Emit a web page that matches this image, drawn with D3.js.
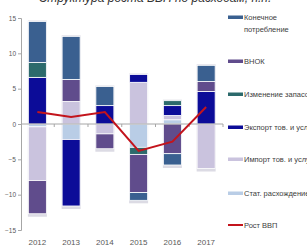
<!DOCTYPE html>
<html>
<head>
	<script src="https://cdn.jsdelivr.net/npm/d3@7"></script>
	<style>
		html, body {
			padding: 0;
			margin: 0;
			background: #fff;
		}
	</style>
</head>
<body>
	<script>
		var width = 307, height = 248;

		/* data */
		var years       = ["2012", "2013", "2014", "2015", "2016", "2017"];
		var consumption = [5.8, 6.1, 2.7, -1.1, -1.6, 2.3];
		var vnok        = [-4.7, 3.1, -2.1, -5.4, -4.2, 1.4];
		var stocks      = [2.1, 0, 0, -1.0, 0.7, 0];
		var exports     = [6.6, -9.4, 2.6, 1.1, 1.4, 4.6];
		var imports     = [-7.6, 3.2, -1.4, 5.9, 0.6, -6.3];
		var statDisc    = [-0.4, -2.2, 0, -3.3, 0.6, 0];
		var gdp         = [1.7, 1.0, 1.7, -3.8, -2.5, 2.4];
		var yTicks      = [-15, -10, -5, 0, 5, 10, 15];

		/* stacking order (bottom up) */
		var series = [
			{key: "stat",  name: "Стат. расхождение",   values: statDisc,    color: "#b9cde6"},
			{key: "imp",   name: "Импорт тов. и услуг", values: imports,     color: "#cac3de"},
			{key: "exp",   name: "Экспорт тов. и услуг", values: exports,    color: "#0c0c98"},
			{key: "stk",   name: "Изменение запасов",   values: stocks,      color: "#2c6a6c"},
			{key: "vnok",  name: "ВНОК",                values: vnok,        color: "#604c8c"},
			{key: "cons",  name: "Конечное потребление", values: consumption, color: "#3a6090"}
		];

		var rows = years.map(function(y, i) {
			var r = {year: y};
			series.forEach(function(s) { r[s.key] = s.values[i]; });
			return r;
		});

		var stack = d3.stack()
			.keys(series.map(function(s) { return s.key; }))
			.offset(d3.stackOffsetDiverging);
		var layers = stack(rows);

		var svg = d3.select("body").append("svg")
			.attr("width", width)
			.attr("height", height);

		var x = d3.scaleBand()
			.domain(years)
			.range([20.5, 223])
			.paddingInner(0.467)
			.paddingOuter(0.233);

		var y = d3.scaleLinear()
			.domain([-15, 15])
			.range([230, 18]);

		// title, mostly cut off by the top edge
		svg.append("text")
			.attr("x", 155)
			.attr("y", 1.5)
			.attr("text-anchor", "middle")
			.style("font-family", "Liberation Sans, Arial, sans-serif")
			.style("font-style", "italic")
			.style("font-size", "12px")
			.style("fill", "#333")
			.text("Структура роста ВВП по расходам, п.п.");

		// soft shadow under each column
		svg.append("g").selectAll("rect")
			.data(years)
			.join("rect")
			.attr("x", function(d) { return x(d) - 0.5; })
			.attr("width", x.bandwidth() + 1)
			.attr("y", function(d, i) { return y(d3.max(layers, function(l) { return l[i][1]; })) - 1; })
			.attr("height", function(d, i) {
				var top = d3.max(layers, function(l) { return l[i][1]; });
				var bot = d3.min(layers, function(l) { return l[i][0]; });
				return y(bot) - y(top) + 4;
			})
			.attr("fill", "#dcdbe4");

		// stacked segments
		svg.append("g").selectAll("g")
			.data(layers)
			.join("g")
			.attr("fill", function(d, i) { return series[i].color; })
			.selectAll("rect")
			.data(function(d) { return d; })
			.join("rect")
			.attr("x", function(d) { return x(d.data.year); })
			.attr("width", x.bandwidth())
			.attr("y", function(d) { return y(Math.max(d[0], d[1])); })
			.attr("height", function(d) { return Math.abs(y(d[0]) - y(d[1])); })
			.attr("stroke", "#fff")
			.attr("stroke-width", 0.8);

		// y axis
		var yAxis = svg.append("g")
			.attr("transform", "translate(21,0)")
			.call(d3.axisLeft(y).tickValues(yTicks).tickSize(3).tickPadding(2));
		yAxis.select(".domain").attr("stroke", "#a6a6a6");
		yAxis.selectAll(".tick line").attr("stroke", "#a6a6a6");
		yAxis.selectAll("text")
			.style("font-family", "Liberation Sans Narrow, Liberation Sans, Arial, sans-serif")
			.style("font-size", "6.5px")
			.style("fill", "#595959");

		// x axis at zero, ticks between categories
		var bounds = years.map(function(d) { return x(d) - x.step() * x.paddingInner() / 2; });
		bounds.push(223);
		var xAxis = svg.append("g");
		xAxis.append("line")
			.attr("x1", 21).attr("x2", 223)
			.attr("y1", y(0)).attr("y2", y(0))
			.attr("stroke", "#a6a6a6");
		xAxis.selectAll("line.t")
			.data(bounds.slice(1))
			.join("line")
			.attr("class", "t")
			.attr("x1", function(d) { return d; })
			.attr("x2", function(d) { return d; })
			.attr("y1", y(0)).attr("y2", y(0) + 3)
			.attr("stroke", "#a6a6a6");

		svg.append("g").selectAll("text")
			.data(years)
			.join("text")
			.attr("x", function(d) { return x(d) + x.bandwidth() / 2; })
			.attr("y", 245)
			.attr("text-anchor", "middle")
			.style("font-family", "Liberation Sans Narrow, Liberation Sans, Arial, sans-serif")
			.style("font-size", "8px")
			.style("fill", "#595959")
			.text(function(d) { return d; });

		// GDP growth line
		var line = d3.line()
			.x(function(d, i) { return x(years[i]) + x.bandwidth() / 2; })
			.y(function(d) { return y(d); });
		svg.append("path")
			.datum(gdp)
			.attr("d", line)
			.attr("fill", "none")
			.attr("stroke", "#c3141c")
			.attr("stroke-width", 2);

		// legend
		var legendItems = [
			{lines: ["Конечное", "потребление"], color: "#3a6090", y: 17},
			{lines: ["ВНОК"], color: "#604c8c", y: 61},
			{lines: ["Изменение запасов"], color: "#2c6a6c", y: 94},
			{lines: ["Экспорт тов. и услуг"], color: "#0c0c98", y: 127},
			{lines: ["Импорт тов. и услуг"], color: "#cac3de", y: 159},
			{lines: ["Стат. расхождение"], color: "#b9cde6", y: 193},
			{lines: ["Рост ВВП"], color: "#c3141c", y: 225, isLine: true}
		];
		var lg = svg.append("g").selectAll("g")
			.data(legendItems)
			.join("g")
			.attr("transform", function(d) { return "translate(228," + d.y + ")"; });
		lg.append("rect")
			.attr("x", 0)
			.attr("y", function(d) { return d.isLine ? -1 : -1.5; })
			.attr("width", 15)
			.attr("height", function(d) { return d.isLine ? 2 : 3.5; })
			.attr("fill", function(d) { return d.color; });
		lg.append("text")
			.attr("x", 16)
			.attr("y", 2.5)
			.style("font-family", "Liberation Sans, Arial, sans-serif")
			.style("font-size", "7.5px")
			.style("fill", "#404040")
			.selectAll("tspan")
			.data(function(d) { return d.lines; })
			.join("tspan")
			.attr("x", 16)
			.attr("dy", function(d, i) { return i === 0 ? 0 : 12.5; })
			.text(function(d) { return d; });
	</script>
</body>
</html>
